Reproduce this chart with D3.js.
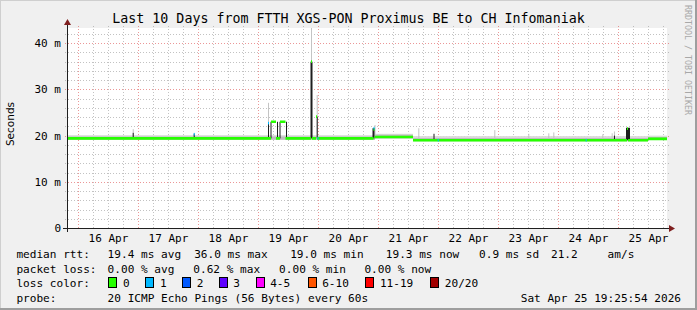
<!DOCTYPE html>
<html><head><meta charset="utf-8">
<script src="https://cdn.jsdelivr.net/npm/d3@7"></script>
<style>
body{margin:0;background:#f0f0f0}
svg{display:block}
text{font-family:"DejaVu Sans Mono",monospace;fill:#000}
</style>
</head><body>
<svg id="c" width="697" height="310"></svg>
<script>
// ---------------- DATA ----------------
const title = "Last 10 Days from FTTH XGS-PON Proximus BE to CH Infomaniak";
const yLabel = "Seconds";
const watermark = "RRDTOOL / TOBI OETIKER";
const yMax = 43.3;                 // ms
const yTicks = [0, 10, 20, 30, 40];
const yTickLabels = ["0", "10 m", "20 m", "30 m", "40 m"];
const xTickDays = ["04-16","04-17","04-18","04-19","04-20","04-21","04-22","04-23","04-24","04-25"];
const xTickLabels = ["16 Apr","17 Apr","18 Apr","19 Apr","20 Apr","21 Apr","22 Apr","23 Apr","24 Apr","25 Apr"];

// median RTT (ms), step breakpoints
const medianTimes  = ["04-15 19:25","04-19 05:02","04-19 07:02","04-19 08:38","04-19 10:50","04-19 21:02","04-19 21:26","04-19 23:02","04-19 23:26","04-20 22:02","04-20 22:26","04-21 13:50","04-25 03:26","04-25 03:50","04-25 11:50"];
const medianValues = [19.4, 23.0, 19.4, 23.0, 19.4, 36.0, 19.4, 24.1, 19.4, 21.3, 19.7, 19.0, 21.5, 19.0, 19.3];

// smoke band around the median (ms), step breakpoints
const smokeTimes   = ["04-15 19:25","04-20 22:38","04-21 13:50","04-25 04:38","04-25 11:50"];
const smokeLow     = [19.1, 19.4, 18.8, 18.8, 19.1];
const smokeHigh    = [20.1, 20.4, 19.9, 19.9, 20.0];
const smokeInner   = [19.8, 20.2, 19.5, 19.5, 19.7];

// dark smoke columns (ms)
const darkTimes    = ["04-16 21:43","04-17 22:07","04-19 03:50","04-19 04:50","04-19 07:26","04-19 08:26","04-19 11:02","04-19 20:50","04-19 23:19","04-20 21:38","04-21 22:02","04-24 22:13","04-25 03:02"];
const darkMinutes  = [24, 24, 24, 24, 24, 24, 24, 48, 24, 48, 24, 24, 96];
const darkLow      = [19.4, 19.4, 19.4, 19.4, 19.4, 19.4, 19.4, 19.4, 19.4, 19.4, 19.0, 19.0, 19.0];
const darkHigh     = [20.6, 20.3, 22.7, 23.0, 23.0, 23.0, 23.0, 36.0, 24.1, 21.6, 20.4, 20.0, 21.7];

// light smoke spikes (ms)
const lightTimes   = ["04-16 21:43","04-17 22:07","04-19 03:50","04-19 21:02","04-19 23:19","04-20 22:26","04-21 15:57","04-22 22:21","04-23 11:57","04-23 19:57","04-23 21:57","04-24 17:33","04-24 21:18","04-24 22:13"];
const lightHigh    = [21.4, 20.6, 27.1, 45.0, 28.8, 22.3, 21.6, 21.2, 20.4, 20.5, 20.7, 20.3, 20.5, 20.9];

// packet-loss coloured median samples
const lossTimes    = ["04-17 22:07","04-19 03:50","04-19 23:38","04-20 22:02","04-21 23:43","04-24 10:54"];
const lossValues   = [20.3, 22.7, 19.4, 21.6, 19.0, 19.0];
const lossClass    = [1, 1, 1, 1, 1, 1];

// legend
const rttStats   = ["19.4 ms avg","36.0 ms max","19.0 ms min","19.3 ms now","0.9 ms sd","21.2","am/s"];
const lossStats  = ["0.00 % avg","0.62 % max","0.00 % min","0.00 % now"];
const lossLabels = ["0","1","2","3","4-5","6-10","11-19","20/20"];
const lossColors = ["#26ff00","#00b8ff","#0059ff","#5e00ff","#ff00ff","#ff5500","#ff0000","#a10000"];
const probeText  = "20 ICMP Echo Pings (56 Bytes) every 60s";
const stamp      = "Sat Apr 25 19:25:54 2026";

// ---------------- DRAW ----------------
const parse = d3.utcParse("%Y-%m-%d %H:%M");
const T = s => parse("2026-" + s);
const svg = d3.select("#c");
const W = 697, H = 310;
const L = 67, R = 667, TOP = 28, BOT = 228;

const x = d3.scaleUtc().domain([new Date(Date.UTC(2026,3,15,19,25,54)), new Date(Date.UTC(2026,3,25,19,25,54))]).range([L, R]);
const y = d3.scaleLinear().domain([0, yMax]).range([BOT, TOP]);

// background & frame
svg.append("rect").attr("width", W).attr("height", H).attr("fill", "#f0f0f0");
svg.append("rect").attr("x",0).attr("y",0).attr("width",W).attr("height",1).attr("fill","#cfcfcf");
svg.append("rect").attr("x",0).attr("y",0).attr("width",1).attr("height",H).attr("fill","#cfcfcf");
svg.append("rect").attr("x",W-2).attr("y",0).attr("width",2).attr("height",H).attr("fill","#9e9e9e");
svg.append("rect").attr("x",0).attr("y",H-2).attr("width",W).attr("height",2).attr("fill","#9e9e9e");
svg.append("rect").attr("x", L).attr("y", TOP).attr("width", R-L).attr("height", BOT-TOP).attr("fill", "#fff");

// grid
const g = svg.append("g").attr("shape-rendering","crispEdges");
const minorY = d3.range(2, yMax, 2).filter(v => v % 10 !== 0);
g.selectAll(".gy").data(minorY).join("line")
  .attr("x1", L-2).attr("x2", R+2).attr("y1", d => Math.round(y(d))+0.5).attr("y2", d => Math.round(y(d))+0.5)
  .attr("stroke", "#8f8f8f").attr("stroke-opacity", 0.55).attr("stroke-dasharray", "1,2");
const [d0, d1] = x.domain();
const minorX = d3.utcHour.every(6).range(d0, d1).filter(d => d.getUTCHours() !== 0);
g.selectAll(".gx").data(minorX).join("line")
  .attr("y1", TOP-2).attr("y2", BOT+2).attr("x1", d => Math.round(x(d))+0.5).attr("x2", d => Math.round(x(d))+0.5)
  .attr("stroke", "#8f8f8f").attr("stroke-opacity", 0.55).attr("stroke-dasharray", "1,2");
g.selectAll(".my").data(yTicks.filter(v => v > 0)).join("line")
  .attr("x1", L-2).attr("x2", R+2).attr("y1", d => Math.round(y(d))+0.5).attr("y2", d => Math.round(y(d))+0.5)
  .attr("stroke", "#de5151").attr("stroke-opacity", 0.6).attr("stroke-dasharray", "1,2");
g.selectAll(".mx").data(xTickDays).join("line")
  .attr("y1", TOP-2).attr("y2", BOT+2).attr("x1", d => Math.round(x(T(d+" 00:00")))+0.5).attr("x2", d => Math.round(x(T(d+" 00:00")))+0.5)
  .attr("stroke", "#de5151").attr("stroke-opacity", 0.6).attr("stroke-dasharray", "1,2");

// clip for data
svg.append("clipPath").attr("id","pc").append("rect").attr("x",L).attr("y",TOP).attr("width",R-L).attr("height",BOT-TOP);
const p = svg.append("g").attr("clip-path","url(#pc)");

// smoke band
const endD = x.domain()[1];
const smokeSeg = smokeTimes.map((t,i) => ({t0: T(t), t1: i < smokeTimes.length-1 ? T(smokeTimes[i+1]) : endD, lo: smokeLow[i], hi: smokeHigh[i], inner: smokeInner[i]}));
p.selectAll(".sm").data(smokeSeg).join("rect")
  .attr("x", d => x(d.t0)).attr("width", d => x(d.t1)-x(d.t0))
  .attr("y", d => y(d.hi)).attr("height", d => y(d.lo)-y(d.hi)).attr("fill", "#dcdcdc");
p.selectAll(".smi").data(smokeSeg).join("rect")
  .attr("x", d => x(d.t0)).attr("width", d => x(d.t1)-x(d.t0))
  .attr("y", d => y(d.inner)).attr("height", d => y(d.lo)-y(d.inner)).attr("fill", "#bdbdbd");

// light spikes
p.selectAll(".ls").data(lightTimes.map((t,i) => ({t: T(t), hi: lightHigh[i]}))).join("rect")
  .attr("x", d => x(d.t)).attr("width", 1)
  .attr("y", d => y(d.hi)).attr("height", d => y(19.4)-y(d.hi)).attr("fill", "#c4c4c4");

// dark columns
p.selectAll(".ds").data(darkTimes.map((t,i) => ({t: T(t), m: darkMinutes[i], lo: darkLow[i], hi: darkHigh[i]}))).join("rect")
  .attr("x", d => x(d.t)).attr("width", d => x(new Date(+d.t + d.m*60000)) - x(d.t))
  .attr("y", d => y(d.hi)).attr("height", d => y(d.lo)-y(d.hi)).attr("fill", "#1e1e1e");

// median (horizontal step segments)
const segs = medianTimes.map((t,i) => ({t0: T(t), t1: i < medianTimes.length-1 ? T(medianTimes[i+1]) : endD, v: medianValues[i]}));
p.append("path")
  .attr("d", segs.map(s => `M${x(s.t0)},${y(s.v)}H${x(s.t1)}`).join(""))
  .attr("fill","none").attr("stroke", lossColors[0]).attr("stroke-width", 2.7);

// loss-coloured samples
p.selectAll(".lp").data(lossTimes.map((t,i) => ({t: T(t), v: lossValues[i], c: lossClass[i]}))).join("rect")
  .attr("x", d => x(d.t)).attr("width", d => x(new Date(+d.t + 24*60000)) - x(d.t))
  .attr("y", d => y(d.v)-1.3).attr("height", 2.6).attr("fill", d => lossColors[d.c]);

// axes
svg.append("line").attr("x1", L-4).attr("x2", R+3).attr("y1", BOT+0.5).attr("y2", BOT+0.5).attr("stroke","#1f1f1f");
svg.append("line").attr("x1", L+0.5).attr("x2", L+0.5).attr("y1", BOT+4).attr("y2", TOP-3).attr("stroke","#1f1f1f");
svg.append("path").attr("d", `M${R+2},${BOT-3}L${R+8},${BOT+0.5}L${R+2},${BOT+4}Z`).attr("fill","#7f1f1f");
svg.append("path").attr("d", `M${L-3},${TOP-3}L${L+0.5},${TOP-9}L${L+4},${TOP-3}Z`).attr("fill","#7f1f1f");

// y ticks
svg.selectAll(".yt").data(yTicks).join("text")
  .attr("x", 61).attr("y", d => y(d)+4).attr("text-anchor","end")
  .style("font-size","11px").text((d,i) => yTickLabels[i]);
// x ticks
svg.selectAll(".xt").data(xTickDays).join("text")
  .attr("x", d => x(T(d+" 12:00"))).attr("y", 242).attr("text-anchor","middle")
  .style("font-size","11px").text((d,i) => xTickLabels[i]);

// title
svg.append("text").attr("x", 348.5).attr("y", 23).attr("text-anchor","middle").style("font-size","13.3px").text(title);
// y label
svg.append("text").attr("transform","translate(14,124) rotate(-90)").attr("text-anchor","middle")
  .style("font-family","'DejaVu Sans',sans-serif").style("font-size","10.5px").text(yLabel);
// watermark
svg.append("text").attr("transform","translate(685,5) rotate(90)").attr("text-anchor","start")
  .style("font-size","8.3px").style("fill","#a8a8a8").text(watermark);

// legend
const fs = "11.1px";
const row = [258, 272.5, 287, 301.5];
const lx = 16.4;
svg.append("text").attr("x", lx).attr("y", row[0]).style("font-size",fs).text("median rtt:");
const rttX = [107.6, 194.2, 290.2, 385.8, 479.1, 551, 607.6];
rttStats.forEach((s,i) => svg.append("text").attr("x", rttX[i]).attr("y", row[0]).style("font-size",fs).text(s));
svg.append("text").attr("x", lx).attr("y", row[1]).style("font-size",fs).text("packet loss:");
const lossX = [107.6, 193.3, 279.1, 364.4];
lossStats.forEach((s,i) => svg.append("text").attr("x", lossX[i]).attr("y", row[1]).style("font-size",fs).text(s));
svg.append("text").attr("x", lx).attr("y", row[2]).style("font-size",fs).text("loss color:");
const swX = [108.4, 145.3, 182.2, 218.7, 255.6, 307.6, 365.3, 430.2];
lossLabels.forEach((s,i) => {
  svg.append("rect").attr("x", swX[i]+0.5).attr("y", row[2]-9.5).attr("width", 8).attr("height", 10)
    .attr("fill", lossColors[i]).attr("stroke","#000").attr("stroke-width",1).attr("shape-rendering","crispEdges");
  svg.append("text").attr("x", swX[i]+14.6).attr("y", row[2]).style("font-size",fs).text(s);
});
svg.append("text").attr("x", lx).attr("y", row[3]).style("font-size",fs).text("probe:");
svg.append("text").attr("x", 107.6).attr("y", row[3]).style("font-size",fs).text(probeText);
svg.append("text").attr("x", 681).attr("y", row[3]).attr("text-anchor","end").style("font-size",fs).text(stamp);
</script>
</body></html>
